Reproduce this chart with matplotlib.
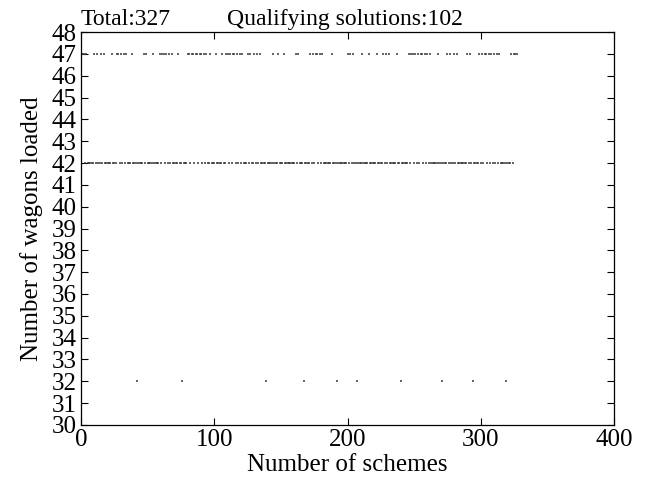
import numpy as np
import matplotlib.pyplot as plt

plt.rcParams['font.family'] = ['Liberation Serif', 'DejaVu Serif']

n_total = 327

# schemes that load 47 wagons (qualifying) and 32 wagons; the rest load 42
idx_47 = [1, 2, 4, 10, 12, 15, 17, 23, 27, 28, 30, 32, 34, 38, 47, 49, 54,
          59, 61, 62, 64, 66, 68, 73, 80, 81, 83, 84, 86, 87, 89, 90, 92, 94,
          97, 101, 106, 109, 110, 112, 114, 115, 117, 119, 121, 125, 127,
          130, 132, 134, 144, 148, 152, 161, 163, 172, 174, 176, 177, 179,
          181, 188, 200, 202, 204, 211, 216, 222, 227, 229, 231, 237, 246,
          248, 249, 251, 253, 255, 256, 258, 260, 262, 268, 275, 277, 280,
          282, 290, 292, 299, 301, 303, 304, 306, 308, 310, 312, 314, 323,
          325, 326, 327]
idx_32 = [42, 76, 139, 167, 192, 207, 240, 271, 294, 319]

schemes = np.arange(1, n_total + 1)
wagons = np.full(n_total, 42)
wagons[np.array(idx_47) - 1] = 47
wagons[np.array(idx_32) - 1] = 32

fig = plt.figure(figsize=(6.49, 4.93), dpi=100)
ax = fig.add_axes([0.1248, 0.138, 0.8213, 0.797])

ax.plot(schemes, wagons, linestyle='none', marker='_', markersize=1.9,
        markeredgewidth=1.1, color='#3a3a3a')

ax.set_xlim(0, 400)
ax.set_ylim(30, 48)
ax.set_xticks([0, 100, 200, 300, 400])
ax.set_yticks(np.arange(30, 49, 1))
ax.tick_params(direction='in', top=True, right=True, length=5, width=0.8,
               labelsize=18, pad=3)
for s in ax.spines.values():
    s.set_linewidth(0.9)

ax.set_xlabel('Number of schemes', fontsize=18, labelpad=2)
ax.set_ylabel('Number of wagons loaded', fontsize=18, labelpad=6)

ax.text(0.0, 1.004, 'Total:%d' % n_total, transform=ax.transAxes,
        fontsize=17, va='bottom', ha='left')
ax.text(0.274, 1.004, 'Qualifying solutions:%d' % len(idx_47),
        transform=ax.transAxes, fontsize=17, va='bottom', ha='left')

fig.savefig('out.png', dpi=100)
